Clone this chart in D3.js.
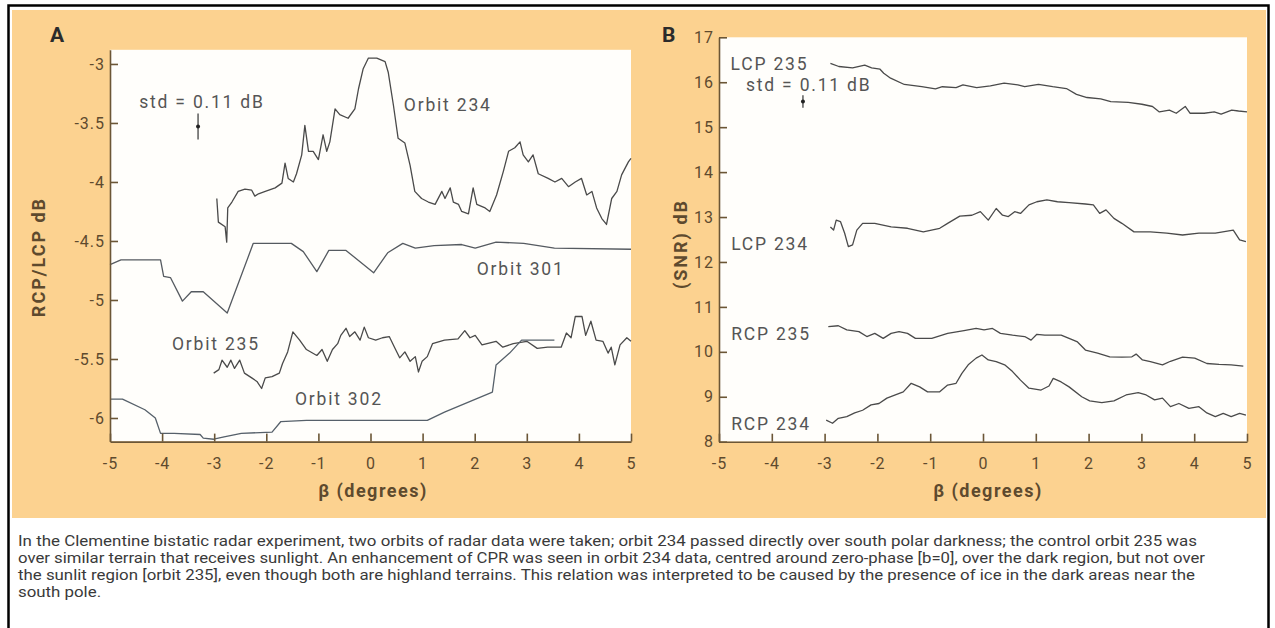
<!DOCTYPE html>
<html>
<head>
<meta charset="utf-8">
<script src="https://cdn.jsdelivr.net/npm/d3@7"></script>
<style>
  body { margin: 0; background: #fff; }
  svg { display: block; }
  text { font-family: Roboto, "DejaVu Sans", sans-serif; }
</style>
</head>
<body>
<div id="fig"></div>
<script>
// --- DATA ---
const xTicks  = [-5, -4, -3, -2, -1, 0, 1, 2, 3, 4, 5];
const yTicksA = [-6, -5.5, -5, -4.5, -4, -3.5, -3];
const yTicksB = [8, 9, 10, 11, 12, 13, 14, 15, 16, 17];

// panel A: RCP/LCP ratio (dB) vs beta
const orbit234 = [[-2.95,-4.14],[-2.92,-4.34],[-2.79,-4.38],[-2.76,-4.51],[-2.74,-4.22],[-2.66,-4.17],[-2.54,-4.08],
  [-2.41,-4.06],[-2.28,-4.07],[-2.22,-4.12],[-2.15,-4.10],[-2.02,-4.08],[-1.83,-4.05],[-1.70,-4.01],[-1.64,-3.84],
  [-1.58,-3.97],[-1.48,-4.00],[-1.42,-3.93],[-1.32,-3.77],[-1.26,-3.52],[-1.19,-3.74],[-1.10,-3.74],[-1.00,-3.81],
  [-0.91,-3.60],[-0.84,-3.74],[-0.78,-3.66],[-0.68,-3.38],[-0.59,-3.43],[-0.43,-3.46],[-0.30,-3.38],[-0.23,-3.21],
  [-0.14,-3.04],[-0.04,-2.95],[0.12,-2.95],[0.28,-2.98],[0.34,-3.07],[0.44,-3.35],[0.53,-3.63],[0.66,-3.67],
  [0.76,-3.86],[0.85,-4.08],[0.98,-4.14],[1.11,-4.17],[1.24,-4.19],[1.37,-4.08],[1.43,-4.14],[1.53,-4.05],
  [1.59,-4.17],[1.69,-4.19],[1.75,-4.25],[1.88,-4.27],[1.97,-4.05],[2.04,-4.19],[2.20,-4.22],[2.29,-4.25],
  [2.42,-4.11],[2.55,-3.91],[2.65,-3.74],[2.77,-3.71],[2.87,-3.66],[2.93,-3.77],[3.03,-3.83],[3.12,-3.77],
  [3.22,-3.93],[3.41,-3.97],[3.54,-4.00],[3.67,-3.97],[3.80,-4.04],[3.93,-4.00],[4.05,-3.97],[4.15,-4.11],
  [4.25,-4.08],[4.34,-4.22],[4.44,-4.31],[4.53,-4.36],[4.63,-4.14],[4.73,-4.08],[4.82,-3.94],[4.95,-3.83],[5.00,-3.80]];

const orbit301 = [[-5.00,-4.70],[-4.79,-4.66],[-4.03,-4.66],[-3.97,-4.80],[-3.84,-4.81],[-3.61,-5.01],[-3.44,-4.93],
  [-3.21,-4.93],[-2.75,-5.11],[-2.25,-4.52],[-1.52,-4.52],[-1.29,-4.59],[-1.03,-4.76],[-0.80,-4.58],[-0.47,-4.58],
  [0.06,-4.77],[0.33,-4.60],[0.62,-4.52],[0.86,-4.56],[1.22,-4.54],[1.75,-4.53],[2.01,-4.56],[2.41,-4.51],
  [2.94,-4.52],[3.53,-4.56],[5.00,-4.57]];

const orbit235 = [[-3.01,-5.62],[-2.91,-5.59],[-2.85,-5.51],[-2.75,-5.57],[-2.68,-5.51],[-2.61,-5.58],[-2.51,-5.51],
  [-2.42,-5.62],[-2.28,-5.66],[-2.18,-5.69],[-2.09,-5.75],[-2.02,-5.66],[-1.89,-5.65],[-1.75,-5.62],[-1.69,-5.54],
  [-1.59,-5.44],[-1.49,-5.27],[-1.36,-5.34],[-1.23,-5.42],[-1.03,-5.47],[-0.93,-5.42],[-0.83,-5.52],[-0.73,-5.42],
  [-0.63,-5.37],[-0.57,-5.30],[-0.47,-5.24],[-0.40,-5.31],[-0.30,-5.27],[-0.20,-5.34],[-0.12,-5.23],[-0.04,-5.32],
  [0.10,-5.34],[0.23,-5.32],[0.36,-5.31],[0.46,-5.40],[0.56,-5.49],[0.66,-5.44],[0.76,-5.52],[0.86,-5.48],
  [0.92,-5.61],[0.99,-5.52],[1.09,-5.48],[1.19,-5.37],[1.42,-5.34],[1.68,-5.33],[1.81,-5.26],[1.91,-5.32],
  [2.01,-5.30],[2.14,-5.38],[2.41,-5.35],[2.54,-5.40],[2.74,-5.37],[3.00,-5.35],[3.20,-5.41],[3.40,-5.40],
  [3.66,-5.40],[3.76,-5.28],[3.85,-5.32],[3.93,-5.14],[4.06,-5.14],[4.13,-5.30],[4.23,-5.18],[4.33,-5.34],
  [4.46,-5.35],[4.56,-5.45],[4.62,-5.40],[4.69,-5.55],[4.79,-5.38],[4.92,-5.32],[5.00,-5.35]];

const orbit302 = [[-5.00,-5.84],[-4.76,-5.84],[-4.33,-5.93],[-4.13,-6.00],[-4.03,-6.13],[-3.77,-6.13],[-3.27,-6.14],
  [-3.21,-6.17],[-3.01,-6.18],[-2.81,-6.16],[-2.48,-6.13],[-1.89,-6.12],[-1.72,-6.03],[-1.23,-6.02],[1.09,-6.02],
  [1.42,-5.95],[2.34,-5.78],[2.41,-5.55],[2.67,-5.45],[2.90,-5.34],[3.53,-5.34]];

// panel B: SNR (dB) vs beta
const lcp235 = [[-2.89,16.42],[-2.73,16.35],[-2.47,16.32],[-2.24,16.38],[-2.11,16.32],[-1.95,16.29],[-1.88,16.20],
  [-1.75,16.09],[-1.49,15.95],[-1.16,15.90],[-0.90,15.85],[-0.77,15.90],[-0.51,15.88],[-0.38,15.94],[-0.12,15.88],
  [0.14,15.92],[0.40,15.98],[0.66,15.94],[0.79,15.90],[1.05,15.95],[1.32,15.90],[1.58,15.86],[1.77,15.73],
  [1.97,15.66],[2.23,15.63],[2.42,15.57],[2.75,15.55],[3.01,15.51],[3.21,15.46],[3.34,15.34],[3.53,15.38],
  [3.66,15.31],[3.83,15.46],[3.92,15.31],[4.19,15.31],[4.38,15.34],[4.51,15.29],[4.71,15.38],[4.84,15.36],[5.00,15.34]];

const lcp234 = [[-2.89,12.78],[-2.83,12.71],[-2.78,12.93],[-2.70,12.90],[-2.62,12.64],[-2.55,12.34],[-2.47,12.38],
  [-2.39,12.71],[-2.28,12.86],[-2.05,12.86],[-1.74,12.78],[-1.43,12.75],[-1.13,12.67],[-0.82,12.75],[-0.67,12.86],
  [-0.44,13.02],[-0.21,13.04],[-0.05,13.12],[0.10,12.93],[0.25,13.19],[0.37,13.04],[0.48,13.01],[0.60,13.12],
  [0.71,13.08],[0.87,13.27],[1.02,13.34],[1.21,13.38],[1.41,13.34],[1.63,13.32],[1.94,13.29],[2.09,13.27],
  [2.21,13.08],[2.33,13.16],[2.48,12.97],[2.63,12.86],[2.86,12.67],[3.17,12.67],[3.48,12.64],[3.78,12.60],
  [4.09,12.64],[4.40,12.64],[4.74,12.71],[4.86,12.49],[4.98,12.45]];

const rcp235 = [[-2.93,10.56],[-2.74,10.58],[-2.58,10.49],[-2.35,10.45],[-2.20,10.34],[-2.05,10.41],[-1.89,10.30],
  [-1.74,10.41],[-1.59,10.45],[-1.43,10.41],[-1.28,10.30],[-0.97,10.30],[-0.67,10.41],[-0.36,10.47],[-0.13,10.52],
  [0.02,10.49],[0.18,10.52],[0.33,10.41],[0.56,10.37],[0.79,10.34],[0.91,10.26],[1.02,10.39],[1.17,10.37],
  [1.48,10.37],[1.63,10.30],[1.79,10.22],[1.94,10.04],[2.17,9.97],[2.40,9.89],[2.63,9.88],[2.82,9.89],
  [2.90,9.95],[3.02,9.82],[3.17,9.78],[3.40,9.71],[3.55,9.79],[3.78,9.88],[4.01,9.86],[4.24,9.74],
  [4.47,9.72],[4.70,9.71],[4.93,9.68]];

const rcp234 = [[-2.97,8.48],[-2.85,8.41],[-2.74,8.52],[-2.58,8.56],[-2.43,8.64],[-2.28,8.70],[-2.12,8.82],
  [-1.97,8.85],[-1.82,8.97],[-1.66,9.04],[-1.51,9.11],[-1.36,9.30],[-1.20,9.22],[-1.05,9.11],[-0.82,9.11],
  [-0.67,9.26],[-0.51,9.30],[-0.40,9.52],[-0.28,9.71],[-0.13,9.86],[-0.02,9.93],[0.10,9.82],[0.25,9.78],
  [0.41,9.71],[0.56,9.56],[0.71,9.37],[0.87,9.19],[1.10,9.15],[1.25,9.24],[1.33,9.41],[1.48,9.33],
  [1.63,9.22],[1.87,9.00],[2.02,8.91],[2.25,8.87],[2.48,8.91],[2.71,9.04],[2.94,9.09],[3.09,9.04],
  [3.25,8.93],[3.40,8.97],[3.55,8.78],[3.71,8.85],[3.90,8.74],[4.09,8.78],[4.24,8.64],[4.40,8.56],
  [4.55,8.63],[4.70,8.56],[4.86,8.63],[4.98,8.59]];

// std error bars: [beta, value, half-height dB]
const stdBarA = [-3.31, -3.53, 0.11];
const stdBarB = [-3.41, 15.57, 0.14];

const captionLines = [
  'In the Clementine bistatic radar experiment, two orbits of radar data were taken; orbit 234 passed directly over south polar darkness; the control orbit 235 was',
  'over similar terrain that receives sunlight. An enhancement of CPR was seen in orbit 234 data, centred around zero-phase [b=0], over the dark region, but not over',
  'the sunlit region [orbit 235], even though both are highland terrains. This relation was interpreted to be caused by the presence of ice in the dark areas near the',
  'south pole.'
];

// --- SETUP ---
const width = 1275, height = 628;
const inkAxis = '#6b5636', inkTick = '#5e4a2e', inkCurve = '#4a4a4a', inkLabel = '#555';

const svg = d3.select('#fig').append('svg')
  .attr('width', width)
  .attr('height', height);

// outer frame + orange figure panel
svg.append('rect')
  .attr('x', 8.5).attr('y', 5.5).attr('width', 1260).attr('height', 640)
  .attr('fill', '#fff').attr('stroke', '#000').attr('stroke-width', 2.5);
svg.append('rect')
  .attr('x', 12).attr('y', 10).attr('width', 1254).attr('height', 508)
  .attr('fill', '#fcd290');

// --- PANEL DRAWING ---
function drawPanel(p) {
  const g = svg.append('g');
  const [x0, x1] = p.x.range();
  const [y0, y1] = p.y.range();

  g.append('rect')
    .attr('x', x0).attr('y', y1)
    .attr('width', x1 - x0).attr('height', y0 - y1)
    .attr('fill', '#fffefb');

  const line = d3.line().x(d => p.x(d[0])).y(d => p.y(d[1]));
  p.series.forEach(s => {
    g.append('path')
      .datum(s.data)
      .attr('d', line)
      .attr('fill', 'none')
      .attr('stroke', s.color || inkCurve)
      .attr('stroke-width', 1.3)
      .attr('stroke-linejoin', 'round');
  });

  // axes, ticks pointing inwards
  const ax = g.append('g')
    .attr('transform', `translate(0,${y0})`)
    .call(d3.axisBottom(p.x).tickValues(xTicks).tickFormat(String)
      .tickSizeInner(-8).tickSizeOuter(0).tickPadding(16));
  const ay = g.append('g')
    .attr('transform', `translate(${x0},0)`)
    .call(d3.axisLeft(p.y).tickValues(p.yTicks).tickFormat(String)
      .tickSizeInner(-8).tickSizeOuter(0).tickPadding(5));

  [ax, ay].forEach(a => {
    a.attr('font-family', null).attr('font-size', null);
    a.selectAll('path, line').attr('stroke', inkAxis).attr('stroke-width', 1.6);
    a.selectAll('text')
      .attr('fill', inkTick)
      .style('font-size', '16px')
      .style('letter-spacing', '1px');
  });

  // std error bar
  const [eb, ev, eh] = p.stdBar;
  g.append('line')
    .attr('x1', p.x(eb)).attr('x2', p.x(eb))
    .attr('y1', p.y(ev - eh)).attr('y2', p.y(ev + eh))
    .attr('stroke', '#333').attr('stroke-width', 1.2);
  g.append('circle')
    .attr('cx', p.x(eb)).attr('cy', p.y(ev)).attr('r', 2)
    .attr('fill', '#222');

  // curve labels
  p.labels.forEach(l => {
    g.append('text')
      .attr('x', p.x(l[1])).attr('y', p.y(l[2]))
      .attr('fill', inkLabel)
      .style('font-size', '17.5px')
      .style('letter-spacing', '1.8px')
      .text(l[0]);
  });

  // panel letter
  g.append('text')
    .attr('x', p.letterX).attr('y', 42)
    .attr('fill', '#2b2b2b')
    .style('font-size', '21px').style('font-weight', 'bold')
    .text(p.letter);

  // axis titles
  g.append('text')
    .attr('x', p.xTitleX).attr('y', 497)
    .attr('text-anchor', 'middle')
    .attr('fill', inkTick)
    .style('font-size', '18px').style('font-weight', 'bold').style('letter-spacing', '1.5px')
    .text('β (degrees)');
  g.append('text')
    .attr('transform', `translate(${p.yTitle[0]},${p.yTitle[1]}) rotate(-90)`)
    .attr('text-anchor', 'middle')
    .attr('fill', inkTick)
    .style('font-size', '18px').style('font-weight', 'bold').style('letter-spacing', '2px')
    .text(p.yTitleText);
}

// panel A
drawPanel({
  x: d3.scaleLinear().domain([-5, 5]).range([110, 631]),
  y: d3.scaleLinear().domain([-6.2, -2.88]).range([441.6, 49.8]),
  yTicks: yTicksA,
  series: [
    { data: orbit234 },
    { data: orbit301, color: '#555a60' },
    { data: orbit235 },
    { data: orbit302, color: '#56606a' }
  ],
  stdBar: stdBarA,
  labels: [
    ['std = 0.11 dB', -4.44, -3.37],
    ['Orbit 234', 0.64, -3.40],
    ['Orbit 301', 2.04, -4.79],
    ['Orbit 235', -3.81, -5.42],
    ['Orbit 302', -1.45, -5.89]
  ],
  letter: 'A', letterX: 50,
  xTitleX: 373,
  yTitle: [45, 257], yTitleText: 'RCP/LCP dB'
});

// panel B
drawPanel({
  x: d3.scaleLinear().domain([-5, 5]).range([719, 1247]),
  y: d3.scaleLinear().domain([8, 17]).range([441.7, 37.3]),
  yTicks: yTicksB,
  series: [
    { data: lcp235 },
    { data: lcp234 },
    { data: rcp235 },
    { data: rcp234 }
  ],
  stdBar: stdBarB,
  labels: [
    ['LCP 235', -4.78, 16.27],
    ['std = 0.11 dB', -4.49, 15.80],
    ['LCP 234', -4.77, 12.27],
    ['RCP 235', -4.77, 10.26],
    ['RCP 234', -4.77, 8.26]
  ],
  letter: 'B', letterX: 662,
  xTitleX: 988,
  yTitle: [687, 244], yTitleText: '(SNR) dB'
});

// --- CAPTION ---
const capWidths = [1179, 1187, 1177];
const cap = svg.append('g')
  .attr('fill', '#3a3a3a')
  .style('font-family', '"Open Sans", "Noto Sans", sans-serif')
  .style('font-size', '14px');

const capText = cap.selectAll('text')
  .data(captionLines)
  .enter().append('text')
    .attr('x', 18)
    .attr('y', (d, i) => 546 + i * 17)
    .text(d => d);

// squeeze full lines to the measured widths, the short last line at the same ratio
let ratio = 1;
capText.each(function(d, i) {
  const natural = this.getComputedTextLength();
  if (i < capWidths.length) ratio = capWidths[i] / natural;
  d3.select(this)
    .attr('textLength', i < capWidths.length ? capWidths[i] : natural * ratio)
    .attr('lengthAdjust', 'spacingAndGlyphs');
});
</script>
</body>
</html>
